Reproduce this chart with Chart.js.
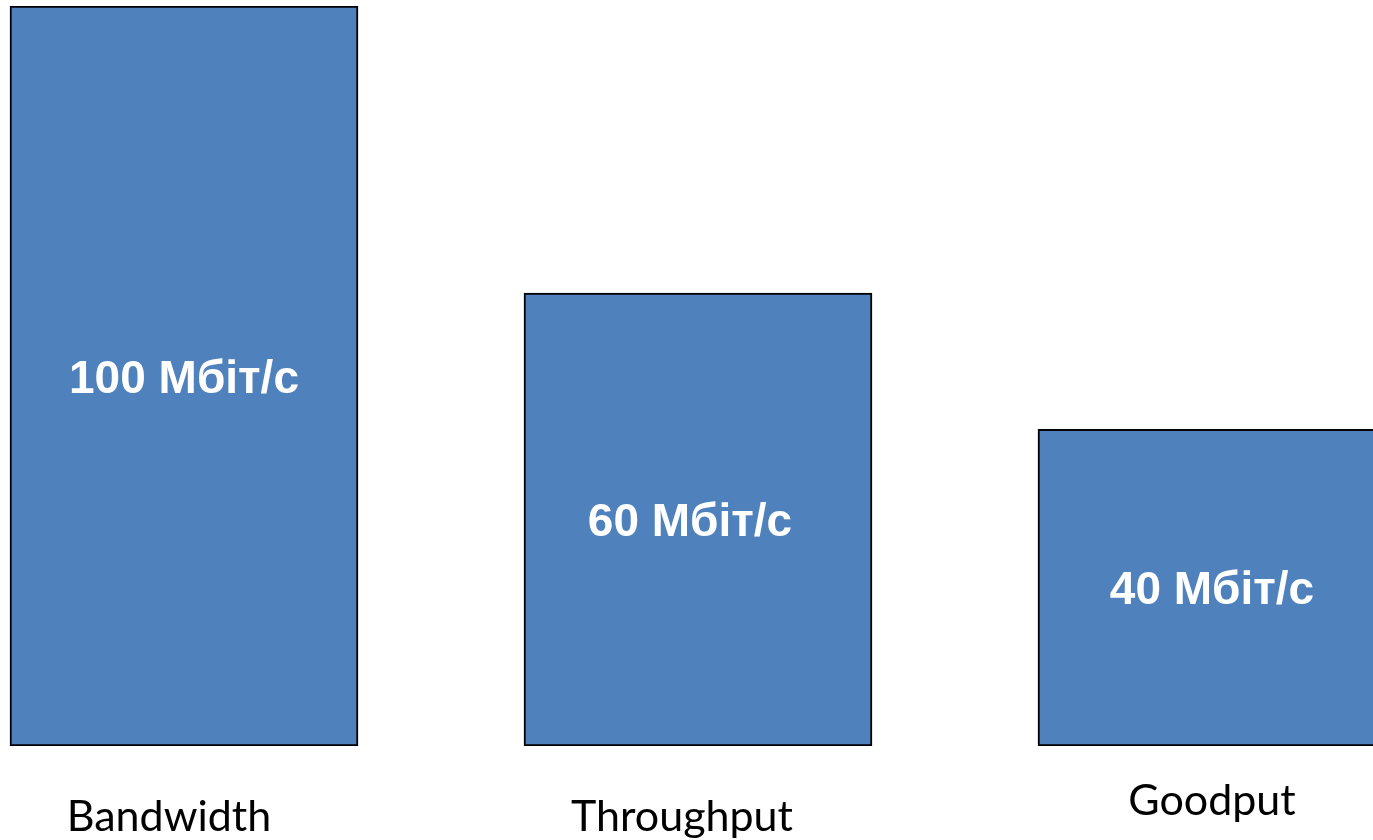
<!DOCTYPE html>
<html>
<head>
<meta charset="utf-8">
<script src="https://cdn.jsdelivr.net/npm/chart.js@4/dist/chart.umd.min.js"></script>
<style>
  html, body { margin: 0; padding: 0; background: #fff; overflow: hidden; width: 1373px; height: 840px; }
  #wrap { position: absolute; left: -73px; top: 0; width: 1542px; height: 840px; }
</style>
</head>
<body>
<div id="wrap"><canvas id="c" width="1542" height="840"></canvas></div>
<script>
const categories = ["Bandwidth", "Throughput", "Goodput"];
const barValues = [100, 61.2, 42.8];
const valueLabels = ["100 Мбіт/с", "60 Мбіт/с", "40 Мбіт/с"];

const labelsPlugin = {
  id: 'labelsPlugin',
  afterDatasetsDraw(chart) {
    const ctx = chart.ctx;
    const meta = chart.getDatasetMeta(0);
    const valDx = [0, -8, 0];
    const catDx = [-15, -16, 0];
    const baseY = [831, 831, 815];
    ctx.save();
    meta.data.forEach((bar, i) => {
      const cy = (bar.y + bar.base) / 2;
      ctx.fillStyle = '#ffffff';
      ctx.font = 'bold 46px "Liberation Sans", Arial, sans-serif';
      ctx.textAlign = 'center';
      ctx.textBaseline = 'middle';
      ctx.fillText(valueLabels[i], bar.x + valDx[i], cy + 4);
      ctx.fillStyle = '#000000';
      ctx.font = '43px Lato, "Open Sans", sans-serif';
      ctx.textBaseline = 'alphabetic';
      ctx.fillText(categories[i], bar.x + catDx[i], baseY[i]);
    });
    ctx.restore();
  }
};

new Chart(document.getElementById('c'), {
  type: 'bar',
  data: {
    labels: categories,
    datasets: [{
      data: barValues,
      backgroundColor: '#4F81BD',
      borderColor: '#000000',
      borderWidth: 2,
      borderSkipped: false,
      barThickness: 348
    }]
  },
  options: {
    responsive: false,
    animation: false,
    layout: { padding: { top: 6, bottom: 94, left: 0, right: 0 } },
    plugins: { legend: { display: false }, tooltip: { enabled: false } },
    scales: {
      x: { display: false, grid: { display: false } },
      y: { display: false, min: 0, max: 100, grid: { display: false } }
    }
  },
  plugins: [labelsPlugin]
});
</script>
</body>
</html>
